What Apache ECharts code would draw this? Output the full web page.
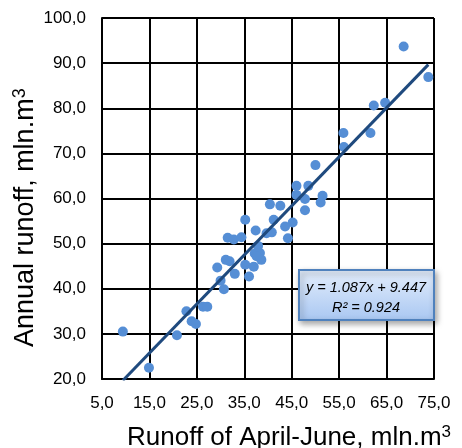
<!DOCTYPE html>
<html>
<head>
<meta charset="utf-8">
<script src="https://cdn.jsdelivr.net/npm/echarts@6/dist/echarts.min.js"></script>
<style>html,body{margin:0;padding:0;background:#fff;}#c{width:462px;height:448px;}</style>
</head>
<body>
<div id="c"></div>
<script>
// April-June runoff (x) and annual runoff (y), mln.m3
const xVals = [68.6, 73.8, 62.3, 64.7, 55.9, 61.6, 56.0, 50.0, 46.0, 48.5,
  46.0, 47.8, 51.5, 51.1, 47.8, 40.4, 42.6, 35.2, 41.2, 45.2,
  43.6, 37.4, 39.7, 40.8, 44.2, 31.5, 32.8, 34.4, 37.9, 37.2,
  38.3, 38.6, 31.1, 31.9, 29.3, 35.2, 37.0, 33.0, 36.0, 30.0,
  30.7, 22.8, 26.3, 27.2, 23.9, 24.8, 9.4, 20.8, 14.9, 37.6];
const yVals = [93.7, 86.9, 80.6, 81.2, 74.5, 74.5, 71.4, 67.4, 62.8, 62.8,
  60.8, 59.9, 60.6, 59.1, 57.4, 58.7, 58.4, 55.3, 55.3, 54.7,
  53.8, 52.9, 52.3, 52.5, 51.2, 51.3, 50.9, 51.4, 49.5, 47.8,
  47.9, 46.4, 46.4, 46.1, 44.7, 45.3, 44.9, 43.3, 42.7, 41.8,
  39.9, 35.0, 36.0, 36.0, 32.8, 32.2, 30.5, 29.7, 22.5, 47.2];
const xTicks = [5, 15, 25, 35, 45, 55, 65, 75];
const yTicks = [20, 30, 40, 50, 60, 70, 80, 90, 100];
const slope = 1.087;
const intercept = 9.447;
const r2 = 0.924;

const points = xVals.map((x, i) => [x, yVals[i]]);
const xMin = Math.min(...xVals), xMax = Math.max(...xVals);
const trend = [[xMin, slope * xMin + intercept], [xMax, slope * xMax + intercept]];
const fmt = v => v.toFixed(1).replace('.', ',');
const FONT = 'Liberation Sans, Arial, sans-serif';

const chart = echarts.init(document.getElementById('c'));
chart.setOption({
  animation: false,
  grid: { left: 102, right: 28, top: 18, bottom: 69, containLabel: false },
  xAxis: {
    type: 'value', min: xTicks[0], max: xTicks[xTicks.length - 1], interval: 10,
    axisLine: { show: true, lineStyle: { color: '#000', width: 2 } },
    axisTick: { show: false },
    splitLine: { show: true, lineStyle: { color: '#000', width: 2 } },
    axisLabel: { formatter: fmt, fontSize: 17, color: '#000', fontFamily: FONT, margin: 16 }
  },
  yAxis: {
    type: 'value', min: yTicks[0], max: yTicks[yTicks.length - 1], interval: 10,
    axisLine: { show: true, lineStyle: { color: '#000', width: 2 } },
    axisTick: { show: false },
    splitLine: { show: true, lineStyle: { color: '#000', width: 2 } },
    axisLabel: { formatter: fmt, fontSize: 17, color: '#000', fontFamily: FONT, margin: 16 }
  },
  series: [
    {
      type: 'scatter', data: points, symbolSize: 10,
      itemStyle: { color: '#558ed5', opacity: 1 }, z: 3
    },
    {
      type: 'line', data: trend, symbol: 'none', clip: true,
      lineStyle: { color: '#1f4a7e', width: 3 }, z: 4
    }
  ],
  graphic: [
    {
      type: 'text', left: 127, top: 424,
      style: {
        text: '{a|Runoff of April-June, mln.m}{s|3}',
        fill: '#000', fontFamily: FONT,
        rich: {
          a: { fontSize: 26, fontFamily: FONT, fill: '#000', lineHeight: 28 },
          s: { fontSize: 17, fontFamily: FONT, fill: '#000', lineHeight: 28, verticalAlign: 'top', padding: [0, 0, 8, 0] }
        }
      }
    },
    {
      type: 'text', x: 11, y: 347, rotation: Math.PI / 2,
      style: {
        text: '{a|Annual runoff, mln.m}{s|3}',
        fill: '#000', fontFamily: FONT,
        rich: {
          a: { fontSize: 27, fontFamily: FONT, fill: '#000', lineHeight: 30 },
          s: { fontSize: 18, fontFamily: FONT, fill: '#000', lineHeight: 30, verticalAlign: 'top', padding: [0, 0, 8, 0] }
        }
      }
    },
    {
      type: 'group', left: 298, top: 269, z: 100,
      children: [
        {
          type: 'rect', z: 100, shape: { x: 0, y: 0, width: 135, height: 50 },
          style: {
            fill: new echarts.graphic.LinearGradient(0, 0, 0, 1, [
              { offset: 0, color: '#e4eefc' }, { offset: 1, color: '#a9c7f2' }
            ]),
            stroke: '#4f81bd', lineWidth: 2,
            shadowBlur: 6, shadowOffsetX: 2, shadowOffsetY: 3, shadowColor: 'rgba(0,0,0,0.35)'
          }
        },
        {
          type: 'text', z: 101, x: 67, y: 18,
          style: { text: 'y = ' + slope.toFixed(3) + 'x + ' + intercept.toFixed(3), fontSize: 14.5, fontStyle: 'italic', fontFamily: FONT, fill: '#000', align: 'center', verticalAlign: 'middle' }
        },
        {
          type: 'text', z: 101, x: 67, y: 38,
          style: { text: 'R² = ' + r2.toFixed(3), fontSize: 14.5, fontStyle: 'italic', fontFamily: FONT, fill: '#000', align: 'center', verticalAlign: 'middle' }
        }
      ]
    }
  ]
});
</script>
</body>
</html>
